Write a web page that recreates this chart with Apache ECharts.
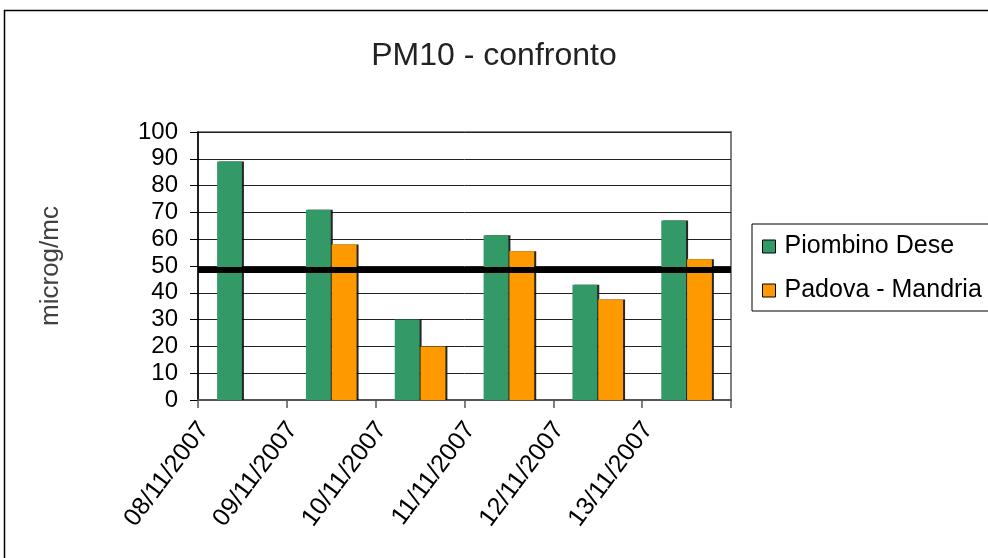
<!DOCTYPE html>
<html>
<head>
<meta charset="utf-8">
<script src="https://cdn.jsdelivr.net/npm/echarts@6/dist/echarts.min.js"></script>
<style>
  html, body { margin: 0; padding: 0; background: #fff; }
  #chart { width: 988px; height: 558px; }
</style>
</head>
<body>
<div id="chart"></div>
<script>
// Daily PM10 readings at the two stations (microg/mc)
const days = ['08/11/2007', '09/11/2007', '10/11/2007', '11/11/2007', '12/11/2007', '13/11/2007'];
const piombinoDese = [89, 71, 30, 61.5, 43, 67];
const padovaMandria = [null, 58, 20, 55.5, 37.5, 52.5];
const limitLine = [48.5];
const yTicks = { min: 0, max: 100, step: 10 };

const FONT = '"Liberation Sans", Arial, sans-serif';
const chart = echarts.init(document.getElementById('chart'), null, { renderer: 'canvas' });

const barShadow = { shadowColor: 'rgba(0,0,0,0.85)', shadowOffsetX: 2, shadowOffsetY: 0, shadowBlur: 0 };

chart.setOption({
  backgroundColor: '#fff',
  animation: false,
  title: {
    text: 'PM10 - confronto',
    left: 'center',
    top: 35,
    textStyle: { fontFamily: FONT, fontSize: 32, fontWeight: 'normal', color: '#222' }
  },
  graphic: [{
    type: 'rect',
    shape: { x: 4.5, y: 10.5, width: 1000, height: 600 },
    style: { fill: 'none', stroke: '#000', lineWidth: 1.5 },
    silent: true,
    z: -1
  }],
  legend: {
    orient: 'vertical',
    left: 752,
    top: 224,
    padding: [10, 30, 8, 10],
    itemGap: 19,
    itemWidth: 13,
    itemHeight: 13,
    borderColor: '#000',
    borderWidth: 1,
    icon: 'rect',
    textStyle: { fontFamily: FONT, fontSize: 25, color: '#000', padding: [0, 0, 0, 4] },
    data: [
      { name: 'Piombino Dese', itemStyle: { borderColor: '#000', borderWidth: 1 } },
      { name: 'Padova - Mandria', itemStyle: { borderColor: '#000', borderWidth: 1 } }
    ]
  },
  grid: {
    left: 198,
    right: 257,
    top: 132,
    bottom: 158,
    show: true,
    borderColor: '#808080',
    borderWidth: 2,
    containLabel: false
  },
  xAxis: {
    type: 'category',
    data: days,
    axisLine: { lineStyle: { color: '#555', width: 2 } },
    axisTick: { show: true, length: 8, lineStyle: { color: '#555', width: 1.5 } },
    axisLabel: {
      rotate: 53,
      margin: -26,
      fontFamily: FONT,
      fontSize: 25,
      color: '#000',
      padding: [0, 64, 0, 0]
    }
  },
  yAxis: {
    type: 'value',
    min: yTicks.min,
    max: yTicks.max,
    interval: yTicks.step,
    name: 'microg/mc',
    nameLocation: 'middle',
    nameGap: 134,
    nameTextStyle: { fontFamily: FONT, fontSize: 26, color: '#404040' },
    axisLine: { show: true, lineStyle: { color: '#000', width: 1.5 } },
    axisTick: { show: true, length: 8, lineStyle: { color: '#000' } },
    axisLabel: { fontFamily: FONT, fontSize: 24, color: '#000', margin: 20 },
    splitLine: { show: true, lineStyle: { color: '#222', width: 1 } }
  },
  series: [
    {
      name: 'Piombino Dese',
      type: 'bar',
      data: piombinoDese,
      barGap: '4%',
      barCategoryGap: '43%',
      itemStyle: Object.assign({ color: '#339966' }, barShadow),
      markLine: {
        silent: true,
        symbol: ['none', 'none'],
        label: { show: false },
        lineStyle: { color: '#000', width: 6, type: 'solid' },
        data: limitLine.map(v => ({ yAxis: v }))
      },
      z: 2
    },
    {
      name: 'Padova - Mandria',
      type: 'bar',
      data: padovaMandria,
      itemStyle: Object.assign({ color: '#FF9900' }, barShadow),
      z: 2
    }
  ]
});
</script>
</body>
</html>
